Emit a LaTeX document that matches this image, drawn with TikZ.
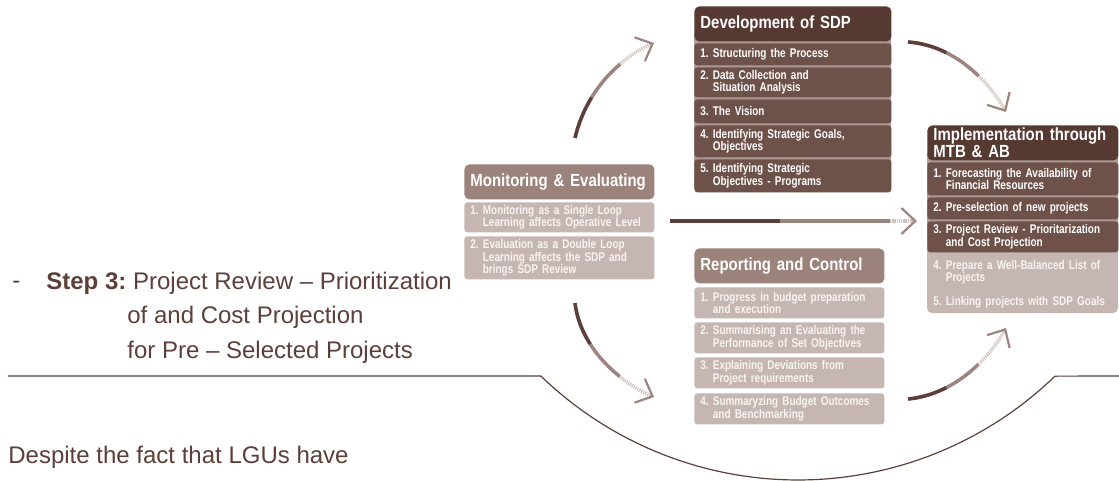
\documentclass[tikz,border=0pt]{standalone}
\usepackage{fontspec}
\setmainfont{Liberation Sans}
\newfontfamily\boxfont[FakeStretch=0.85]{Liberation Sans}
\newfontfamily\itemfont[FakeStretch=0.79]{Liberation Sans}
\usetikzlibrary{arrows.meta}
\definecolor{txtc}{HTML}{5B3F38}
\definecolor{dkhd}{HTML}{563931}
\definecolor{dkit}{HTML}{6E5249}
\definecolor{gapc}{HTML}{AE9B95}
\definecolor{lthd}{HTML}{9B827B}
\definecolor{ltit}{HTML}{C5B6B1}
\definecolor{lttx}{HTML}{F8F4F2}
\definecolor{arlt}{HTML}{CFC2BD}
\definecolor{armd}{HTML}{9C857E}
\newcommand\ind{\hphantom{0. }}
\frenchspacing
\hyphenpenalty=10000
\exhyphenpenalty=10000
\tikzset{
  pill/.style={anchor=north west, rounded corners=1.5pt, inner xsep=3pt, inner ysep=0pt, align=left},
  boxhead/.style={pill, rounded corners=2.5pt, text=white, font=\boxfont\bfseries\fontsize{8.8}{8.4}\selectfont, minimum height=17.5pt},
  boxitem/.style={pill, font=\itemfont\bfseries\fontsize{6.3}{6.3}\selectfont},
  flow/.style={line width=1.7pt},
  plain/.style={anchor=west, inner sep=0pt, text=txtc, font=\fontsize{12}{14}\selectfont},
}
\begin{document}
\begin{tikzpicture}[x=0.5pt, y=-0.5pt]
\useasboundingbox (0,0) rectangle (1119,481);

\fill[gapc, rounded corners=2.5pt] (694,30) rectangle (891,192);
\node[boxhead, fill=dkhd, text width=92.5pt] (dev) at (694,6) {Development of SDP};
\foreach \yy/\hh/\txt [count=\i] in {43/22/{1. Structuring the Process},
    67/30/{2. Data Collection and\\\ind Situation Analysis},
    99/24/{3. The Vision},
    125/32/{4. Identifying Strategic Goals,\\\ind Objectives},
    159/33/{5. Identifying Strategic\\\ind Objectives - Programs}}
  \node[boxitem, fill=dkit, text=white, text width=92.5pt, minimum height=\hh*0.5pt] (dev\i) at (694,\yy) {\txt};

\fill[gapc, rounded corners=2.5pt] (927,150) rectangle (1118,252);
\fill[ltit, rounded corners=2.5pt] (927,240) rectangle (1118,313);
\node[boxhead, fill=dkhd, text width=89.5pt] (imp) at (927,125) {Implementation through\\MTB \& AB};
\foreach \yy/\hh/\txt [count=\i] in {162/33/{1. Forecasting the Availability of\\\ind Financial Resources},
    197/22/{2. Pre-selection of new projects},
    221/31/{3. Project Review - Prioritarization\\\ind and Cost Projection}}
  \node[boxitem, fill=dkit, text=white, text width=89.5pt, minimum height=\hh*0.5pt] (imp\i) at (927,\yy) {\txt};
\node[boxitem, text=lttx, text width=89.5pt, minimum height=19pt] (imp4) at (927,253) {4. Prepare a Well-Balanced List of\\\ind Projects};
\node[boxitem, text=lttx, text width=89.5pt, minimum height=11pt] (imp5) at (927,291) {5. Linking projects with SDP Goals};

\node[boxhead, fill=lthd, text width=89pt] (mon) at (464,164) {Monitoring \& Evaluating};
\foreach \yy/\hh/\txt [count=\i] in {202/30/{1. Monitoring as a Single Loop\\\ind Learning affects Operative Level},
    236/43/{2. Evaluation as a Double Loop\\\ind Learning affects the SDP and\\\ind brings SDP Review}}
  \node[boxitem, fill=ltit, text=lttx, text width=89pt, minimum height=\hh*0.5pt] (mon\i) at (464,\yy) {\txt};

\node[boxhead, fill=lthd, text width=89pt] (rep) at (694,248) {Reporting and Control};
\foreach \yy/\hh/\txt [count=\i] in {287/31/{1. Progress in budget preparation\\\ind and execution},
    322/31/{2. Summarising an Evaluating the\\\ind Performance of Set Objectives},
    357/31/{3. Explaining Deviations from\\\ind Project requirements},
    393/31/{4. Summaryzing Budget Outcomes\\\ind and Benchmarking}}
  \node[boxitem, fill=ltit, text=lttx, text width=89pt, minimum height=\hh*0.5pt] (rep\i) at (694,\yy) {\txt};

\coordinate (mon-up) at (575,138);
\coordinate (dev-in) at (654,43);
\coordinate (dev-out) at (908,42);
\coordinate (imp-in1) at (1006,112);
\coordinate (mon-right) at (670,221);
\coordinate (imp-in2) at (917,221);
\coordinate (rep-out) at (908,399);
\coordinate (imp-in3) at (1006,328);
\coordinate (mon-down) at (575,303);
\coordinate (rep-in) at (654,397);
\foreach \st/\px/\py/\qx/\qy/\en/\dk in {mon-up/585/95/615/60/dev-in/22,
    dev-out/950/45/985/75/imp-in1/20,
    mon-right/750/221/840/221/imp-in2/55,
    rep-out/950/395/985/365/imp-in3/20,
    mon-down/580/345/615/380/rep-in/22}
{
  \draw[flow, arlt, dash pattern=on 0.6pt off 0.5pt, -{Straight Barb[length=7pt, width=13pt, line width=1.1pt, color=armd]}] (\st) .. controls (\px,\py) and (\qx,\qy) .. (\en);
  \draw[flow, armd, dash pattern=on 2*\dk pt off 500pt] (\st) .. controls (\px,\py) and (\qx,\qy) .. (\en);
  \draw[flow, txtc, dash pattern=on \dk pt off 500pt] (\st) .. controls (\px,\py) and (\qx,\qy) .. (\en);
}

\node[plain] (dash) at (12,285) {-};
\node[plain] (step) at (46,283) {\textbf{Step 3:} Project Review – Prioritization};
\node[plain] (cost) at (127,317) {of and Cost Projection};
\node[plain] (pre) at (127,352) {for Pre – Selected Projects};
\node[plain] (despite) at (8,457) {Despite the fact that LGUs have};

\draw[txtc, line width=0.6pt] (8,376) -- (541,376)
  -- plot[domain=134:46, samples=80] ({798+370*cos(\x)},{110+370*sin(\x)}) -- (1119,376);
\end{tikzpicture}
\end{document}
